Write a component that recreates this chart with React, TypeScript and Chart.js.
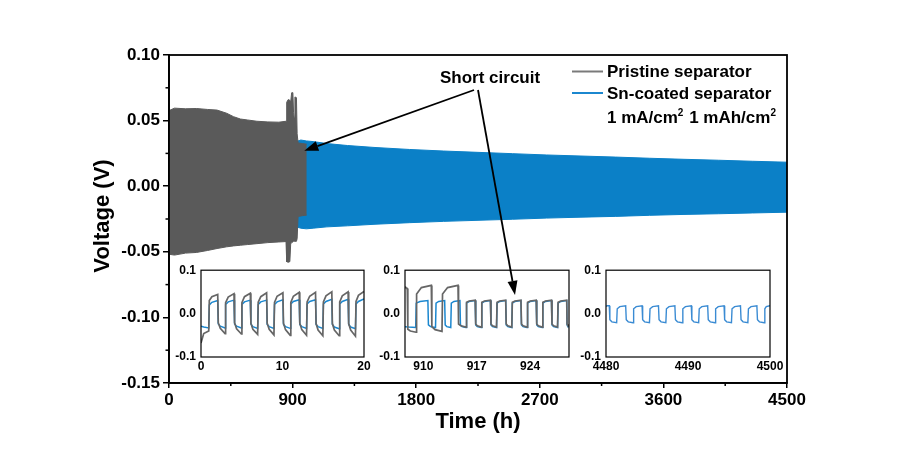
import React, { useEffect, useRef } from 'react';
import { Chart, registerables } from 'chart.js';

Chart.register(...registerables);

const FONT = '"Liberation Sans", Arial, Helvetica, sans-serif';
const GRAY_BAND = '#5a5a5a';
const BLUE_BAND = '#0b80c7';
const GRAY_LINE = '#666666';
const BLUE_LINE = '#1b87cf';
const LEGEND_GRAY = '#7a7a7a';

// ---- Main panel: envelope of the voltage oscillation (V) against time (h) ----
const pristineTime = [0, 8, 40, 120, 200, 280, 350, 420, 470, 520, 570, 640, 720, 800, 852, 857, 868, 880, 886, 893, 902, 907, 912, 917, 928, 933, 940, 970, 1003];
const pristineUpper = [0.054, 0.058, 0.0595, 0.059, 0.0592, 0.0585, 0.058, 0.0556, 0.053, 0.0512, 0.0505, 0.0495, 0.049, 0.0488, 0.0495, 0.064, 0.066, 0.0655, 0.064, 0.0712, 0.0713, 0.056, 0.052, 0.068, 0.0675, 0.04, 0.033, 0.0325, 0.032];
const pristineLower = [-0.048, -0.052, -0.0525, -0.051, -0.0505, -0.049, -0.0475, -0.0462, -0.0455, -0.045, -0.0445, -0.0438, -0.043, -0.0425, -0.0422, -0.0575, -0.058, -0.0575, -0.044, -0.043, -0.0425, -0.042, -0.042, -0.042, -0.042, -0.04, -0.023, -0.0225, -0.022];

const snTime = [925, 960, 1000, 1050, 1150, 1300, 1500, 1750, 2000, 2250, 2500, 2750, 3000, 3250, 3500, 3750, 4000, 4250, 4500];
const snUpper = [0.034, 0.0352, 0.0345, 0.034, 0.0325, 0.031, 0.0295, 0.028, 0.0268, 0.0258, 0.0248, 0.0238, 0.023, 0.0222, 0.0213, 0.0205, 0.0198, 0.019, 0.0183];
const snLower = [-0.031, -0.032, -0.0325, -0.032, -0.031, -0.0302, -0.029, -0.0278, -0.0268, -0.026, -0.0252, -0.0243, -0.0236, -0.023, -0.0222, -0.0215, -0.021, -0.0204, -0.0198];

const mainXTicks = [0, 900, 1800, 2700, 3600, 4500];
const mainXMinor = [450, 1350, 2250, 3150, 4050];
const mainYTicks = [-0.15, -0.1, -0.05, 0, 0.05, 0.1];
const mainYMinor = [-0.125, -0.075, -0.025, 0.025, 0.075];

// ---- Inset A: first 20 h (switching times, and start / mid / end level of each half cycle) ----
const insetAEdges = [0, 0.95, 2.05, 2.95, 4.05, 4.95, 6.05, 6.95, 8.05, 8.95, 10.05, 10.95, 12.05, 12.95, 14.05, 14.95, 16.05, 16.95, 18.05, 18.95, 20];
const insetAPristineStart = [-0.068, 0.03, -0.021, 0.025, -0.021, 0.025, -0.022, 0.026, -0.022, 0.026, -0.022, 0.026, -0.022, 0.027, -0.023, 0.027, -0.023, 0.027, -0.023, 0.028];
const insetAPristineMid = [-0.046, 0.039, -0.034, 0.038, -0.035, 0.039, -0.036, 0.039, -0.036, 0.04, -0.037, 0.04, -0.037, 0.04, -0.038, 0.041, -0.038, 0.041, -0.038, 0.042];
const insetAPristineEnd = [-0.04, 0.044, -0.046, 0.046, -0.047, 0.047, -0.048, 0.048, -0.049, 0.048, -0.05, 0.049, -0.05, 0.049, -0.051, 0.05, -0.051, 0.05, -0.052, 0.051];
const insetASnStart = [-0.029, 0.02, -0.024, 0.021, -0.024, 0.021, -0.024, 0.021, -0.025, 0.021, -0.025, 0.022, -0.025, 0.022, -0.025, 0.022, -0.025, 0.022, -0.025, 0.022];
const insetASnMid = [-0.031, 0.026, -0.029, 0.027, -0.029, 0.027, -0.03, 0.027, -0.03, 0.027, -0.03, 0.028, -0.03, 0.028, -0.03, 0.028, -0.031, 0.028, -0.031, 0.028];
const insetASnEnd = [-0.033, 0.03, -0.033, 0.031, -0.033, 0.031, -0.034, 0.031, -0.034, 0.032, -0.034, 0.032, -0.034, 0.032, -0.034, 0.033, -0.035, 0.033, -0.035, 0.034];
const insetAXTicks = [0, 10, 20];

// ---- Inset B: around the short circuit (907.6 - 929.1 h) ----
const insetBPristineEdges = [907.6, 907.9, 909.05, 911.05, 912.45, 914.55, 915.6, 916.8, 917.6, 918.8, 919.6, 920.8, 921.6, 922.8, 923.6, 924.8, 925.6, 926.8, 927.6, 928.8, 929.1];
const insetBPristineStart = [0.062, -0.036, 0.045, -0.03, 0.045, -0.024, 0.026, -0.024, 0.026, -0.024, 0.026, -0.024, 0.026, -0.024, 0.026, -0.024, 0.026, -0.024, 0.026, -0.024];
const insetBPristineMid = [0.06, -0.04, 0.06, -0.037, 0.06, -0.028, 0.029, -0.028, 0.029, -0.028, 0.029, -0.028, 0.029, -0.028, 0.029, -0.028, 0.029, -0.028, 0.029, -0.026];
const insetBPristineEnd = [0.058, -0.043, 0.065, -0.041, 0.065, -0.031, 0.031, -0.031, 0.031, -0.031, 0.031, -0.031, 0.031, -0.031, 0.031, -0.031, 0.031, -0.031, 0.031, -0.027];
const insetBSnEdges = [907.6, 909.0, 910.6, 911.6, 912.8, 913.6, 914.8, 915.6, 916.8, 917.6, 918.8, 919.6, 920.8, 921.6, 922.8, 923.6, 924.8, 925.6, 926.8, 927.6, 928.8, 929.1];
const insetBSnStart = [-0.03, 0.024, -0.026, 0.024, -0.026, 0.024, -0.026, 0.024, -0.026, 0.024, -0.026, 0.024, -0.026, 0.024, -0.026, 0.024, -0.026, 0.024, -0.026, 0.024, -0.026];
const insetBSnMid = [-0.031, 0.028, -0.03, 0.028, -0.03, 0.028, -0.03, 0.028, -0.03, 0.028, -0.03, 0.028, -0.03, 0.028, -0.03, 0.028, -0.03, 0.028, -0.03, 0.028, -0.028];
const insetBSnEnd = [-0.032, 0.03, -0.032, 0.03, -0.032, 0.03, -0.032, 0.03, -0.032, 0.03, -0.032, 0.03, -0.032, 0.03, -0.032, 0.03, -0.032, 0.03, -0.032, 0.03, -0.029];
const insetBXRange = [907.6, 929.1];
const insetBXTicks = [910, 917, 924];

// ---- Inset C: last 20 h ----
const insetCEdges = [4480, 4480.4, 4481.3, 4482.4, 4483.3, 4484.4, 4485.3, 4486.4, 4487.3, 4488.4, 4489.3, 4490.4, 4491.3, 4492.4, 4493.3, 4494.4, 4495.3, 4496.4, 4497.3, 4498.4, 4499.3, 4500];
const insetCSnStart = [0.017, -0.014, 0.011, -0.014, 0.011, -0.014, 0.011, -0.014, 0.011, -0.014, 0.011, -0.014, 0.011, -0.014, 0.011, -0.014, 0.011, -0.014, 0.011, -0.014, 0.011];
const insetCSnMid = [0.018, -0.019, 0.016, -0.019, 0.016, -0.019, 0.016, -0.019, 0.016, -0.019, 0.016, -0.019, 0.016, -0.019, 0.016, -0.019, 0.016, -0.019, 0.016, -0.019, 0.016];
const insetCSnEnd = [0.018, -0.021, 0.018, -0.021, 0.018, -0.021, 0.018, -0.021, 0.018, -0.021, 0.018, -0.021, 0.018, -0.021, 0.018, -0.021, 0.018, -0.021, 0.018, -0.021, 0.018];
const insetCXTicks = [4480, 4490, 4500];

const insetYTicks = [-0.1, 0, 0.1];

// ---- Layout ----
const W = 902;
const H = 449;
const PLOT = { left: 169, right: 787, top: 55, bottom: 383 };
const X_AXIS_H = 40;
const INSET_TOP = 266;
const INSET_BOTTOM = 357;
const INSET_AXIS_W = 40;
const INSET_AXIS_H = 22;
const INSET_PAD_TOP = 8;
const INSET_PAD_RIGHT = 24;
const INSET_FRAMES = [
  { left: 201, right: 364 },
  { left: 405, right: 569 },
  { left: 606, right: 770 },
];

type Pt = { x: number; y: number };

const zipPoints = (xs: number[], ys: number[]): Pt[] => xs.map((x, i) => ({ x, y: ys[i] }));

// Square-wave style trace: each half cycle runs from edges[i] to edges[i+1],
// passing through its start, mid and end level.
function cycleTrace(edges: number[], start: number[], mid: number[], end: number[]): Pt[] {
  const pts: Pt[] = [];
  for (let i = 0; i < start.length; i++) {
    const t0 = edges[i];
    const t1 = edges[i + 1];
    const d = t1 - t0;
    const a = i === 0 ? t0 : t0 + Math.min(0.07, d * 0.15);
    pts.push({ x: a, y: start[i] });
    pts.push({ x: t0 + d * 0.35, y: mid[i] });
    pts.push({ x: t1, y: end[i] });
  }
  return pts;
}

function line(ctx: CanvasRenderingContext2D, x0: number, y0: number, x1: number, y1: number) {
  ctx.beginPath();
  ctx.moveTo(x0, y0);
  ctx.lineTo(x1, y1);
  ctx.stroke();
}

function arrow(ctx: CanvasRenderingContext2D, x0: number, y0: number, x1: number, y1: number) {
  const ang = Math.atan2(y1 - y0, x1 - x0);
  const len = 14;
  const half = 5;
  const bx = x1 - len * Math.cos(ang);
  const by = y1 - len * Math.sin(ang);
  line(ctx, x0, y0, bx, by);
  ctx.beginPath();
  ctx.moveTo(x1, y1);
  ctx.lineTo(bx + half * Math.sin(ang), by - half * Math.cos(ang));
  ctx.lineTo(bx - half * Math.sin(ang), by + half * Math.cos(ang));
  ctx.closePath();
  ctx.fill();
}

const mainDecor = {
  id: 'mainDecor',
  afterDraw(chart: any) {
    const { ctx, chartArea: a } = chart;
    const xs = chart.scales.x;
    const ys = chart.scales.y;
    ctx.save();
    ctx.strokeStyle = '#000';
    ctx.fillStyle = '#000';

    // frame
    ctx.lineWidth = 1.8;
    ctx.strokeRect(a.left, a.top, a.right - a.left, a.bottom - a.top);

    // minor ticks
    ctx.lineWidth = 1.5;
    for (const v of mainYMinor) {
      const p = ys.getPixelForValue(v);
      line(ctx, a.left - 3.5, p, a.left, p);
    }
    for (const v of mainXMinor) {
      const p = xs.getPixelForValue(v);
      line(ctx, p, a.bottom, p, a.bottom + 3);
    }

    // axis titles
    ctx.font = `bold 22px ${FONT}`;
    ctx.textAlign = 'center';
    ctx.textBaseline = 'alphabetic';
    ctx.fillText('Time (h)', (a.left + a.right) / 2, 428);
    ctx.save();
    ctx.translate(109, (a.top + a.bottom) / 2 - 3);
    ctx.rotate(-Math.PI / 2);
    ctx.font = `bold 22px ${FONT}`;
    ctx.fillText('Voltage (V)', 0, 0);
    ctx.restore();

    // legend
    ctx.lineWidth = 2;
    ctx.strokeStyle = LEGEND_GRAY;
    line(ctx, 572, 71.5, 603, 71.5);
    ctx.strokeStyle = BLUE_LINE;
    line(ctx, 572, 93, 603, 93);
    ctx.font = `bold 17px ${FONT}`;
    ctx.textAlign = 'left';
    ctx.fillText('Pristine separator', 607, 77);
    ctx.fillText('Sn-coated separator', 607, 99);
    const parts: [string, boolean][] = [['1 mA/cm', false], ['2', true], [' 1 mAh/cm', false], ['2', true]];
    let tx = 607;
    for (const [txt, sup] of parts) {
      ctx.font = sup ? `bold 10px ${FONT}` : `bold 17px ${FONT}`;
      ctx.fillText(txt, tx, sup ? 116 : 122.5);
      tx += ctx.measureText(txt).width + (sup ? 1 : 0);
    }

    // short-circuit annotation
    ctx.font = `bold 17px ${FONT}`;
    ctx.fillText('Short circuit', 440, 83);
    ctx.strokeStyle = '#000';
    ctx.lineWidth = 1.8;
    arrow(ctx, 474, 90, xs.getPixelForValue(985), ys.getPixelForValue(0.027));
    arrow(ctx, 478, 90, 515, 295);
    ctx.restore();
  },
};

const insetFrame = {
  id: 'insetFrame',
  afterDraw(chart: any) {
    const { ctx, chartArea: a } = chart;
    ctx.save();
    ctx.strokeStyle = '#000';
    ctx.lineWidth = 1.2;
    ctx.strokeRect(a.left, a.top, a.right - a.left, a.bottom - a.top);
    ctx.restore();
  },
};

const tickFont = { family: FONT, size: 17, weight: 'bold' as const };
const insetFont = { family: FONT, size: 12, weight: 'bold' as const };

function mainConfig(): any {
  const band = (pts: Pt[], color: string, fill: any) => ({
    data: pts,
    borderColor: color,
    backgroundColor: color,
    borderWidth: 1,
    pointRadius: 0,
    tension: 0,
    fill,
  });
  return {
    type: 'line',
    data: {
      datasets: [
        band(zipPoints(pristineTime, pristineUpper), GRAY_BAND, '+1'),
        band(zipPoints(pristineTime, pristineLower), GRAY_BAND, false),
        band(zipPoints(snTime, snUpper), BLUE_BAND, '+1'),
        band(zipPoints(snTime, snLower), BLUE_BAND, false),
      ],
    },
    options: {
      animation: false,
      responsive: false,
      events: [],
      layout: { padding: { left: 0, top: PLOT.top, right: W - PLOT.right, bottom: H - PLOT.bottom - X_AXIS_H } },
      plugins: { legend: { display: false }, tooltip: { enabled: false } },
      scales: {
        x: {
          type: 'linear',
          min: mainXTicks[0],
          max: mainXTicks[mainXTicks.length - 1],
          afterBuildTicks: (s: any) => {
            s.ticks = mainXTicks.map((value) => ({ value }));
          },
          afterFit: (s: any) => {
            s.height = X_AXIS_H;
          },
          border: { display: true, color: '#000', width: 1.8 },
          grid: { display: true, drawOnChartArea: false, drawTicks: true, tickLength: 5, color: '#000', lineWidth: 1.5 },
          ticks: { padding: 2, color: '#000', font: tickFont, maxRotation: 0, autoSkip: false, callback: (v: any) => String(v) },
        },
        y: {
          type: 'linear',
          min: mainYTicks[0],
          max: mainYTicks[mainYTicks.length - 1],
          afterBuildTicks: (s: any) => {
            s.ticks = mainYTicks.map((value) => ({ value }));
          },
          afterFit: (s: any) => {
            s.width = PLOT.left;
          },
          border: { display: true, color: '#000', width: 1.8 },
          grid: { display: true, drawOnChartArea: false, drawTicks: true, tickLength: 6, color: '#000', lineWidth: 1.5 },
          ticks: { padding: 3, color: '#000', font: tickFont, callback: (v: any) => Number(v).toFixed(2) },
        },
      },
    },
    plugins: [mainDecor],
  };
}

function insetConfig(datasets: any[], xmin: number, xmax: number, xticks: number[]): any {
  return {
    type: 'line',
    data: { datasets },
    options: {
      animation: false,
      responsive: false,
      events: [],
      layout: { padding: { left: 0, top: INSET_PAD_TOP, right: INSET_PAD_RIGHT, bottom: 0 } },
      plugins: { legend: { display: false }, tooltip: { enabled: false } },
      scales: {
        x: {
          type: 'linear',
          min: xmin,
          max: xmax,
          afterBuildTicks: (s: any) => {
            s.ticks = xticks.map((value) => ({ value }));
          },
          afterFit: (s: any) => {
            s.height = INSET_AXIS_H;
          },
          border: { display: false },
          grid: { display: false, drawTicks: false, tickLength: 0 },
          ticks: { padding: 2, color: '#000', font: insetFont, maxRotation: 0, autoSkip: false, callback: (v: any) => String(v) },
        },
        y: {
          type: 'linear',
          min: insetYTicks[0],
          max: insetYTicks[insetYTicks.length - 1],
          afterBuildTicks: (s: any) => {
            s.ticks = insetYTicks.map((value) => ({ value }));
          },
          afterFit: (s: any) => {
            s.width = INSET_AXIS_W;
          },
          border: { display: false },
          grid: { display: false, drawTicks: false, tickLength: 0 },
          ticks: { padding: 5, color: '#000', font: insetFont, callback: (v: any) => Number(v).toFixed(1) },
        },
      },
    },
    plugins: [insetFrame],
  };
}

const trace = (pts: Pt[], color: string, width: number) => ({
  data: pts,
  borderColor: color,
  backgroundColor: color,
  borderWidth: width,
  pointRadius: 0,
  tension: 0,
  fill: false,
});

export default function App() {
  const mainRef = useRef<HTMLCanvasElement>(null);
  const aRef = useRef<HTMLCanvasElement>(null);
  const bRef = useRef<HTMLCanvasElement>(null);
  const cRef = useRef<HTMLCanvasElement>(null);

  useEffect(() => {
    const charts: Chart[] = [];
    charts.push(new Chart(mainRef.current as HTMLCanvasElement, mainConfig()));
    charts.push(
      new Chart(
        aRef.current as HTMLCanvasElement,
        insetConfig(
          [
            trace(cycleTrace(insetAEdges, insetAPristineStart, insetAPristineMid, insetAPristineEnd), GRAY_LINE, 1.7),
            trace(cycleTrace(insetAEdges, insetASnStart, insetASnMid, insetASnEnd), BLUE_LINE, 1.5),
          ],
          insetAEdges[0],
          insetAEdges[insetAEdges.length - 1],
          insetAXTicks
        )
      )
    );
    charts.push(
      new Chart(
        bRef.current as HTMLCanvasElement,
        insetConfig(
          [
            trace(cycleTrace(insetBPristineEdges, insetBPristineStart, insetBPristineMid, insetBPristineEnd), GRAY_LINE, 1.7),
            trace(cycleTrace(insetBSnEdges, insetBSnStart, insetBSnMid, insetBSnEnd), BLUE_LINE, 1.5),
          ],
          insetBXRange[0],
          insetBXRange[1],
          insetBXTicks
        )
      )
    );
    charts.push(
      new Chart(
        cRef.current as HTMLCanvasElement,
        insetConfig(
          [trace(cycleTrace(insetCEdges, insetCSnStart, insetCSnMid, insetCSnEnd), '#3a8bd3', 1.4)],
          insetCEdges[0],
          insetCEdges[insetCEdges.length - 1],
          insetCXTicks
        )
      )
    );
    return () => charts.forEach((c) => c.destroy());
  }, []);

  const refs = [aRef, bRef, cRef];
  const insetH = INSET_PAD_TOP + (INSET_BOTTOM - INSET_TOP) + INSET_AXIS_H;

  return (
    <div style={{ position: 'absolute', left: 0, top: 0, width: W, height: H, background: '#fff' }}>
      <canvas ref={mainRef} width={W} height={H} style={{ position: 'absolute', left: 0, top: 0 }} />
      {INSET_FRAMES.map((f, i) => {
        const w = INSET_AXIS_W + (f.right - f.left) + INSET_PAD_RIGHT;
        return (
          <canvas
            key={i}
            ref={refs[i]}
            width={w}
            height={insetH}
            style={{ position: 'absolute', left: f.left - INSET_AXIS_W, top: INSET_TOP - INSET_PAD_TOP }}
          />
        );
      })}
    </div>
  );
}
